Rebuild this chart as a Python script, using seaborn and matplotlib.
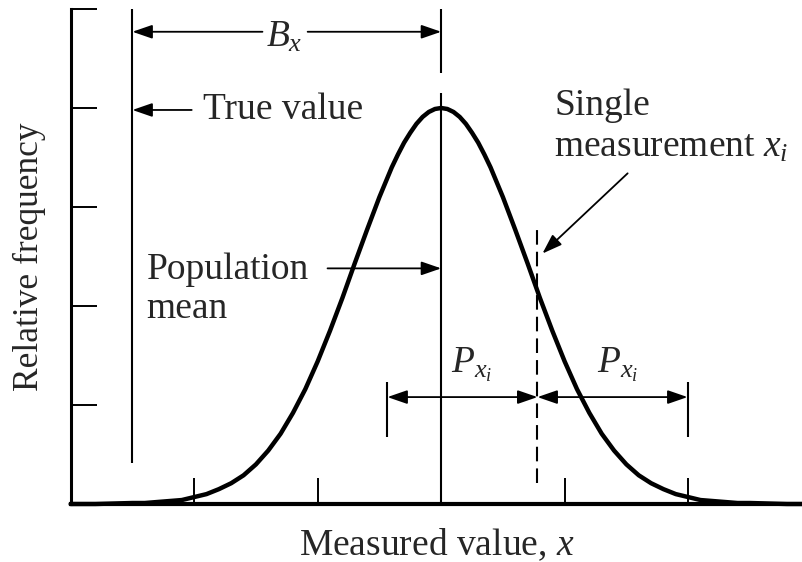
import matplotlib
matplotlib.use("Agg")
import matplotlib.pyplot as plt
import seaborn as sns
import pandas as pd

# Relative frequency curve of measured values (mean at 0, one tick = one unit)
measured_x = [-3.0, -2.8, -2.5, -2.4, -2.3, -2.2, -2.1, -2.0, -1.9, -1.8,
              -1.7, -1.6, -1.5, -1.4, -1.3, -1.2, -1.1, -1.0, -0.9, -0.8,
              -0.7, -0.6, -0.5, -0.4, -0.35, -0.3, -0.25, -0.2, -0.15, -0.1,
              -0.05, 0.0, 0.05, 0.1, 0.15, 0.2, 0.25, 0.3, 0.35, 0.4,
              0.5, 0.6, 0.7, 0.8, 0.9, 1.0, 1.1, 1.2, 1.3, 1.4,
              1.5, 1.6, 1.7, 1.8, 1.9, 2.0, 2.1, 2.2, 2.3, 2.4,
              2.5, 2.8, 2.93]
rel_freq = [0.00, 0.00, 0.01, 0.01, 0.02, 0.03, 0.04, 0.07, 0.10, 0.15,
            0.21, 0.29, 0.40, 0.54, 0.71, 0.92, 1.16, 1.44, 1.75, 2.08,
            2.43, 2.77, 3.10, 3.40, 3.53, 3.65, 3.75, 3.84, 3.91, 3.96,
            3.99, 4.00, 3.99, 3.96, 3.91, 3.84, 3.75, 3.65, 3.53, 3.40,
            3.10, 2.77, 2.43, 2.08, 1.75, 1.44, 1.16, 0.92, 0.71, 0.54,
            0.40, 0.29, 0.21, 0.15, 0.10, 0.07, 0.04, 0.03, 0.02, 0.01,
            0.01, 0.00, 0.00]

x_ticks = [-2, -1, 0, 1, 2]
y_ticks = [1, 2, 3, 4, 5]

true_value = -2.5
population_mean = 0.0
single_measurement = 0.78
precision_index = 1.215

sns.set_style("ticks")
plt.rcParams["font.family"] = ["Liberation Serif", "DejaVu Serif"]
plt.rcParams["mathtext.fontset"] = "custom"
plt.rcParams["mathtext.rm"] = "Liberation Serif"
plt.rcParams["mathtext.it"] = "Liberation Serif:italic"

FS = 27

fig = plt.figure(figsize=(8.03, 5.62), dpi=100)
ax = fig.add_axes([0.088, 0.1032, 0.912, 0.8808])

curve = pd.DataFrame({"x": measured_x, "f": rel_freq})
sns.lineplot(data=curve, x="x", y="f", color="black", lw=3.2, ax=ax,
             solid_joinstyle="round", solid_capstyle="round", clip_on=False)

ax.set_xlim(-3.0, 2.93)
ax.set_ylim(0, 5)
ax.set_xticks(x_ticks)
ax.set_yticks(y_ticks)
ax.set_xticklabels([])
ax.set_yticklabels([])
ax.tick_params(axis="both", direction="in", length=19, width=1.4, color="black")
for side in ("top", "right"):
    ax.spines[side].set_visible(False)
ax.spines["left"].set_linewidth(2.2)
ax.spines["bottom"].set_linewidth(3.0)
ax.spines["left"].set_color("black")
ax.spines["bottom"].set_color("black")

ax.set_xlabel("Measured value, $x$", fontsize=FS, labelpad=13)
ax.set_ylabel("Relative frequency", fontsize=25.5, labelpad=14)

# Reference lines
ax.vlines(true_value, 0.41, 5.0, color="black", lw=1.5)
ax.vlines(population_mean, 4.35, 5.0, color="black", lw=1.5)
ax.vlines(population_mean, 0.0, 4.15, color="black", lw=1.5)
ax.vlines(single_measurement, 0.21, 2.82, color="black", lw=1.5,
          linestyles=(0, (7.0, 3.4)))
lo = single_measurement - precision_index
hi = single_measurement + precision_index
ax.vlines([lo, hi], 0.68, 1.23, color="black", lw=1.5)

one_head = dict(arrowstyle="-|>,head_length=1.1,head_width=0.38", color="black",
                lw=1.3, shrinkA=0, shrinkB=0, mutation_scale=11)
two_head = dict(arrowstyle="<|-|>,head_length=1.1,head_width=0.38", color="black",
                lw=1.3, shrinkA=0, shrinkB=0, mutation_scale=11)

# Bias B_x between true value and population mean
y_b = 4.77
ax.annotate("", xy=(true_value, y_b), xytext=(-1.447, y_b), arrowprops=one_head)
ax.annotate("", xy=(population_mean, y_b), xytext=(-1.081, y_b), arrowprops=one_head)
ax.text(-1.27, 4.71, "$B_x$", fontsize=FS, ha="center", va="center")

# True value
ax.annotate("", xy=(true_value, 3.98), xytext=(-2.02, 3.98), arrowprops=one_head)
ax.text(-1.93, 3.98, "True value", fontsize=FS, ha="left", va="center")

# Population mean
ax.annotate("", xy=(population_mean, 2.38), xytext=(-0.92, 2.38), arrowprops=one_head)
ax.text(-2.386, 2.27, "Population", fontsize=FS, ha="left", va="baseline")
ax.text(-2.386, 1.88, "mean", fontsize=FS, ha="left", va="baseline")

# Single measurement
ax.annotate("", xy=(0.82, 2.53), xytext=(1.51, 3.34), arrowprops=one_head)
ax.text(0.917, 3.93, "Single", fontsize=FS, ha="left", va="baseline")
ax.text(0.917, 3.51, "measurement $x_i$", fontsize=FS, ha="left", va="baseline")

# Precision interval around the single measurement
y_p = 1.08
ax.annotate("", xy=(lo, y_p), xytext=(single_measurement, y_p), arrowprops=two_head)
ax.annotate("", xy=(hi, y_p), xytext=(single_measurement, y_p), arrowprops=two_head)
ax.text(0.083, 1.33, "$P_{x_i}$", fontsize=FS, ha="left", va="baseline")
ax.text(1.26, 1.33, "$P_{x_i}$", fontsize=FS, ha="left", va="baseline")

fig.savefig("out.png", dpi=100)
